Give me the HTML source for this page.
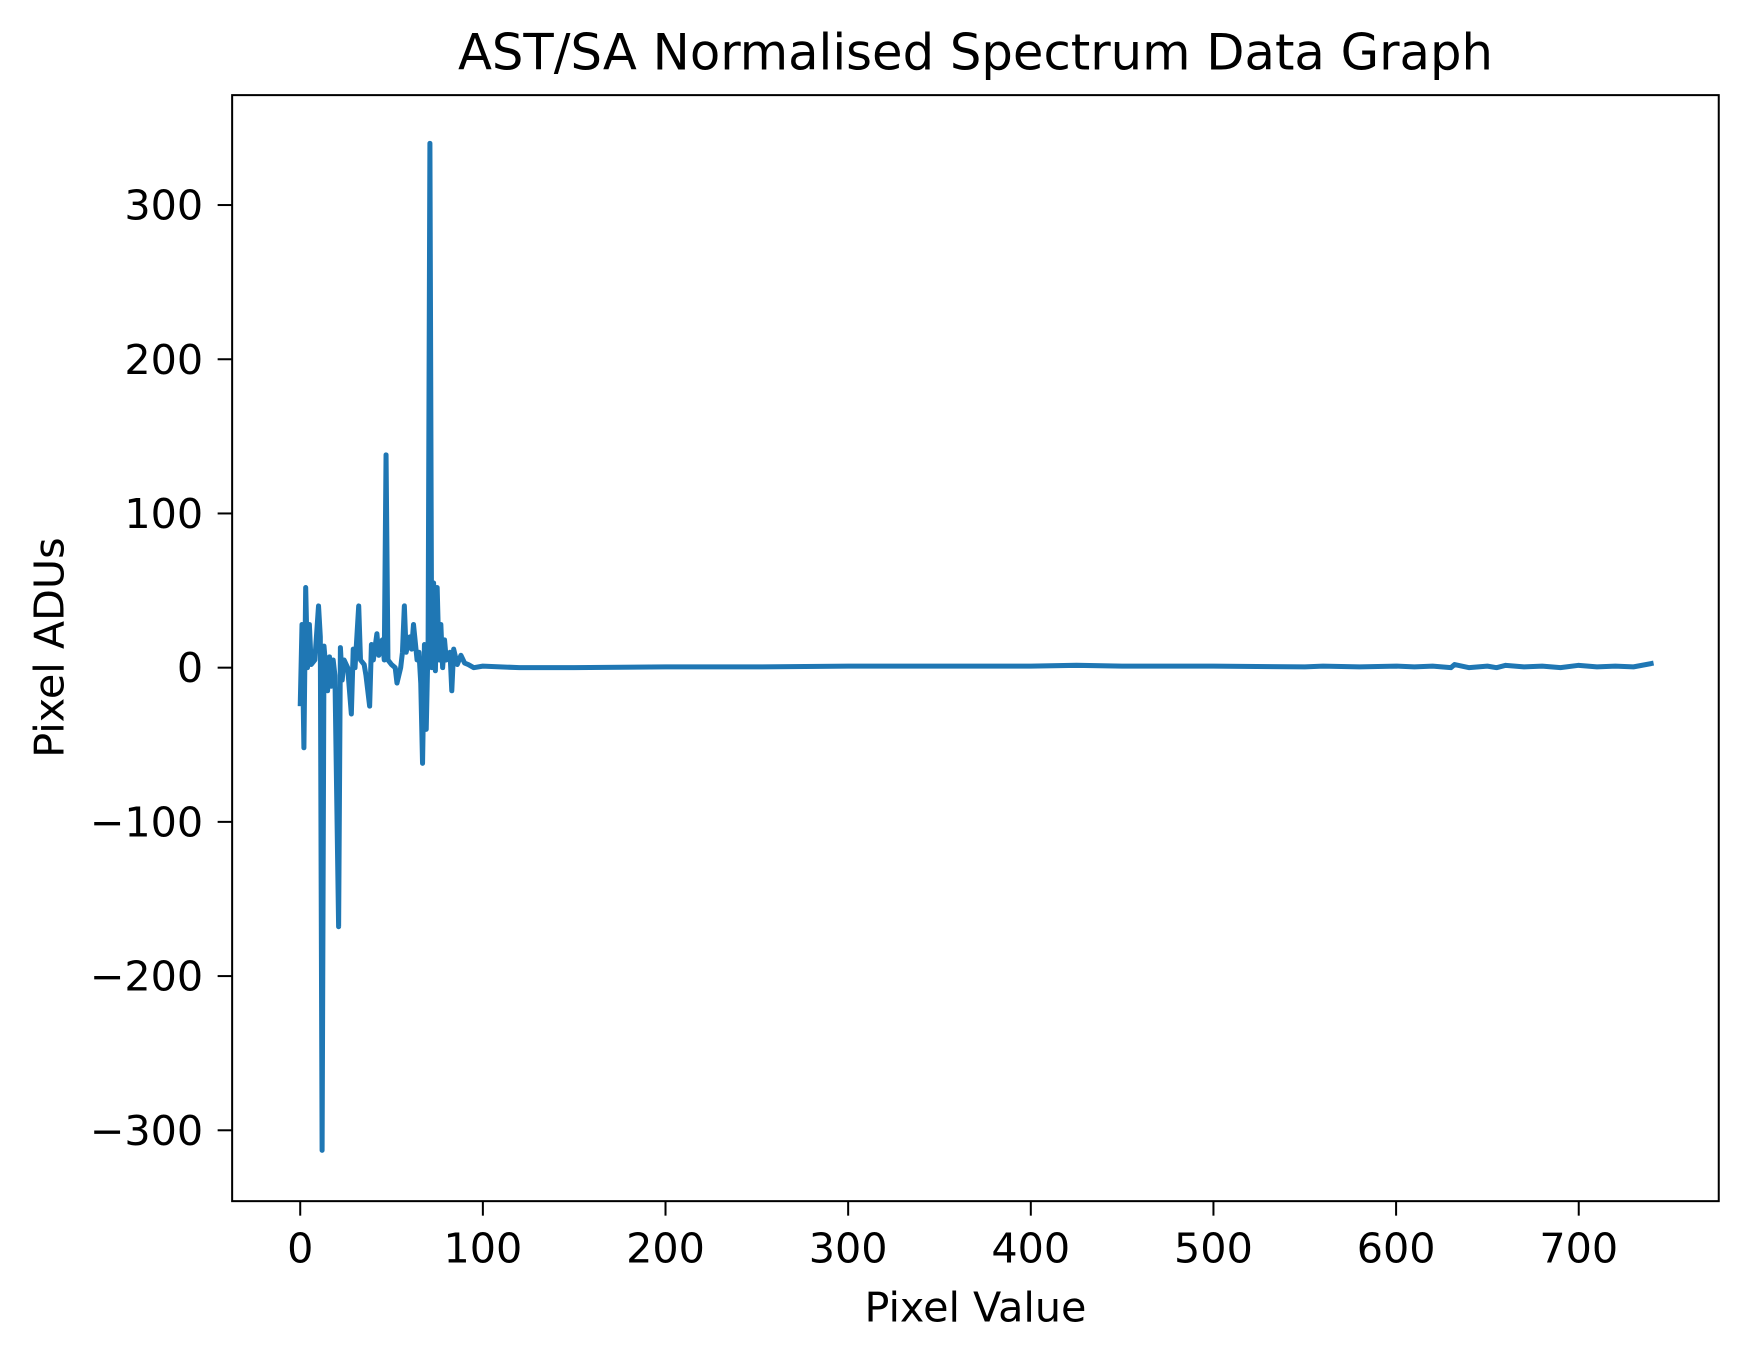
<!DOCTYPE html>
<html><head><meta charset="utf-8"><style>
html,body{margin:0;padding:0;background:#fff;}
svg{display:block;font-family:"DejaVu Sans","Liberation Sans",sans-serif;}
</style></head><body>
<svg id="chart" width="1750" height="1361" viewBox="0 0 1568 1219" xmlns="http://www.w3.org/2000/svg">
<rect width="1568" height="1219" fill="#fff"/>
<text x="874" y="62" font-size="44.5" text-anchor="middle" fill="#000">AST/SA Normalised Spectrum Data Graph</text>
<g id="axes"></g>
<path id="series" fill="none" stroke="#1f77b4" stroke-width="4.5" stroke-linejoin="round"/>
<rect x="208" y="85" width="1332" height="991" fill="none" stroke="#000" stroke-width="1.8"/>
<text x="874" y="1184" font-size="37" text-anchor="middle">Pixel Value</text>
<text transform="translate(57,580) rotate(-90)" font-size="37" text-anchor="middle">Pixel ADUs</text>
</svg>
<script>
const xValues = [0,1,2,3,4,5,6,8,10,11,12,13,14,15,16,17,18,19,21,22,23,24,26,28,29,30,32,33,35,36,38,39,40,42,43,45,46,47,48,50,52,53,55,56,57,58,60,61,62,64,65,66,67,68,69,70,71,72,73,74,75,76,77,78,79,80,82,83,84,86,88,90,92,95,100,120,150,200,250,300,350,400,425,450,500,550,560,580,600,610,620,630,632,640,650,655,660,670,680,690,700,710,720,730,741];
const yValues = [-25,28,-52,52,0,28,2,5,40,20,-313,14,0,-15,7,-12,5,-5,-168,13,-8,5,0,-30,12,0,40,5,2,-5,-25,15,5,22,8,18,5,138,5,2,0,-10,0,10,40,10,20,12,28,5,10,-10,-62,15,-40,18,340,0,55,-2,52,5,28,0,18,5,10,-15,12,2,8,3,2,0,1,0,0,0.5,0.5,1,1,1,1.5,1,1,0.5,1,0.5,1,0.5,1,0,2,0,1,0,1.5,0.5,1,0,1.5,0.5,1,0.5,3];
const xTicks = [0,100,200,300,400,500,600,700];
const yTicks = [-300,-200,-100,0,100,200,300];
const yLabels = ["\u2212300","\u2212200","\u2212100","0","100","200","300"];
const xs = v => 269 + v * 1.6365;
const ys = v => 598 - v * 1.3817;
const ax = document.getElementById('axes');
const NS = 'http://www.w3.org/2000/svg';
xTicks.forEach(t => {
  const l = document.createElementNS(NS, 'line');
  
  
  l.setAttribute('x1', xs(t)); l.setAttribute('x2', xs(t));
  l.setAttribute('y1', 1076); l.setAttribute('y2', 1089);
  l.setAttribute('stroke', '#000'); l.setAttribute('stroke-width', 1.8);
  ax.appendChild(l);
  const tx = document.createElementNS(NS, 'text');
  
  
  tx.setAttribute('x', xs(t)); tx.setAttribute('y', 1131);
  tx.setAttribute('font-size', 37); tx.setAttribute('text-anchor', 'middle');
  tx.textContent = t;
  ax.appendChild(tx);
});
yTicks.forEach((t, i) => {
  const l = document.createElementNS(NS, 'line');
  
  
  l.setAttribute('x1', 195); l.setAttribute('x2', 208);
  l.setAttribute('y1', ys(t)); l.setAttribute('y2', ys(t));
  l.setAttribute('stroke', '#000'); l.setAttribute('stroke-width', 1.8);
  ax.appendChild(l);
  const tx = document.createElementNS(NS, 'text');
  
  
  tx.setAttribute('x', 182); tx.setAttribute('y', ys(t) + 13);
  tx.setAttribute('font-size', 37); tx.setAttribute('text-anchor', 'end');
  tx.textContent = yLabels[i];
  ax.appendChild(tx);
});
document.getElementById('series').setAttribute('d',
  xValues.map((x, i) => (i ? 'L' : 'M') + xs(x).toFixed(1) + ' ' + ys(yValues[i]).toFixed(1)).join(' '));
</script>
</body></html>
